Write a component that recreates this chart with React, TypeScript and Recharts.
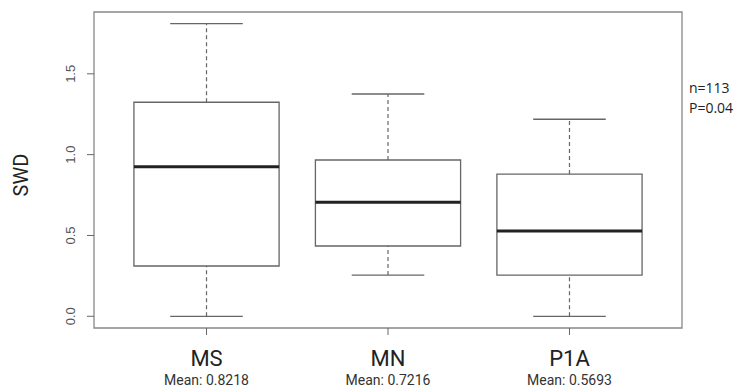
import {
  ComposedChart,
  ReferenceArea,
  ReferenceLine,
  Scatter,
  XAxis,
  YAxis,
} from 'recharts';

const groups = ['MS', 'MN', 'P1A'];
const mins = [0, 0.255, 0];
const q1s = [0.311, 0.435, 0.255];
const medians = [0.925, 0.705, 0.528];
const q3s = [1.324, 0.967, 0.88];
const maxs = [1.81, 1.375, 1.219];
const means = ['0.8218', '0.7216', '0.5693'];
const yTicks = [0, 0.5, 1, 1.5];

const X_DOMAIN: [number, number] = [0.38, 3.62];
const Y_DOMAIN: [number, number] = [-0.0724, 1.8824];

const LINE = '#666';
const FONT = 'Roboto, "Liberation Sans", Arial, sans-serif';

const medianPoints = groups.map((g, i) => ({ x: i + 1, y: medians[i], name: g }));

function XTick({ x, y, payload }: any) {
  const i = payload.value - 1;
  return (
    <g>
      <text x={x} y={y + 29} textAnchor="middle" fontSize={22} fill="#222" fontFamily={FONT}>
        {groups[i]}
      </text>
      <text x={x} y={y + 48} textAnchor="middle" fontSize={14} fill="#333" fontFamily={FONT}>
        {`Mean: ${means[i]}`}
      </text>
    </g>
  );
}

function YTick({ x, y, payload }: any) {
  const tx = x - 10;
  return (
    <text
      x={tx}
      y={y}
      transform={`rotate(-90, ${tx}, ${y})`}
      textAnchor="middle"
      fontSize={13}
      fill="#555"
      fontFamily='"Liberation Sans", Arial, sans-serif'
    >
      {payload.value.toFixed(1)}
    </text>
  );
}

function YLabel({ viewBox }: any) {
  const cx = viewBox.x + 28;
  const cy = viewBox.y + viewBox.height / 2 + 5;
  return (
    <text
      x={cx}
      y={cy}
      transform={`rotate(-90, ${cx}, ${cy})`}
      textAnchor="middle"
      fontSize={20}
      fill="#222"
      fontFamily={FONT}
    >
      SWD
    </text>
  );
}

export default function App() {
  return (
    <div style={{ position: 'absolute', left: 0, top: 0, width: 738, height: 388, background: '#fff' }}>
      <ComposedChart width={738} height={388} margin={{ top: 12, right: 56, bottom: 10, left: 0 }}>
        <XAxis
          type="number"
          dataKey="x"
          domain={X_DOMAIN}
          ticks={[1, 2, 3]}
          allowDataOverflow
          axisLine={false}
          tickSize={7}
          tickLine={{ stroke: LINE }}
          tick={<XTick />}
          height={50}
        />
        <YAxis
          type="number"
          dataKey="y"
          domain={Y_DOMAIN}
          ticks={yTicks}
          allowDataOverflow
          axisLine={false}
          tickSize={7}
          tickLine={{ stroke: LINE }}
          tick={<YTick />}
          width={94}
          label={<YLabel />}
        />
        <ReferenceArea
          x1={X_DOMAIN[0]}
          x2={X_DOMAIN[1]}
          y1={Y_DOMAIN[0]}
          y2={Y_DOMAIN[1]}
          fill="none"
          stroke="#888"
          strokeWidth={1.3}
        />
        {groups.map((g, i) => {
          const c = i + 1;
          return [
            <ReferenceLine
              key={`${g}-wu`}
              segment={[{ x: c, y: q3s[i] }, { x: c, y: maxs[i] }]}
              stroke={LINE}
              strokeDasharray="4 3"
              strokeWidth={1.2}
            />,
            <ReferenceLine
              key={`${g}-wl`}
              segment={[{ x: c, y: mins[i] }, { x: c, y: q1s[i] }]}
              stroke={LINE}
              strokeDasharray="4 3"
              strokeWidth={1.2}
            />,
            <ReferenceLine
              key={`${g}-cu`}
              segment={[{ x: c - 0.2, y: maxs[i] }, { x: c + 0.2, y: maxs[i] }]}
              stroke={LINE}
              strokeWidth={1.3}
            />,
            <ReferenceLine
              key={`${g}-cl`}
              segment={[{ x: c - 0.2, y: mins[i] }, { x: c + 0.2, y: mins[i] }]}
              stroke={LINE}
              strokeWidth={1.3}
            />,
            <ReferenceArea
              key={`${g}-box`}
              x1={c - 0.4}
              x2={c + 0.4}
              y1={q1s[i]}
              y2={q3s[i]}
              fill="#fff"
              fillOpacity={1}
              stroke={LINE}
              strokeWidth={1.3}
            />,
            <ReferenceLine
              key={`${g}-med`}
              segment={[{ x: c - 0.4, y: medians[i] }, { x: c + 0.4, y: medians[i] }]}
              stroke="#222"
              strokeWidth={3}
            />,
          ];
        })}
        <Scatter data={medianPoints} isAnimationActive={false} shape={() => <g />} />
      </ComposedChart>
      <div
        style={{
          position: 'absolute',
          left: 689,
          top: 78,
          fontFamily: '"Open Sans", "Noto Sans", sans-serif',
          fontSize: 14,
          lineHeight: '20px',
          color: '#222',
        }}
      >
        <div>n=113</div>
        <div>P=0.04</div>
      </div>
    </div>
  );
}
